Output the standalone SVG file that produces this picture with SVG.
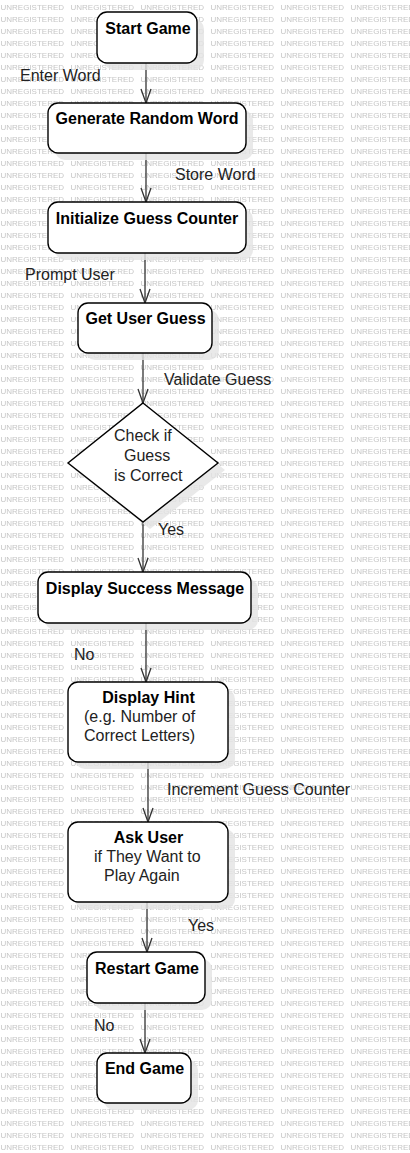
<svg xmlns="http://www.w3.org/2000/svg" width="410" height="1153" viewBox="0 0 410 1153">
<defs>
<pattern id="wm" x="0" y="0" width="70" height="12" patternUnits="userSpaceOnUse">
<text x="0.5" y="10" font-family="Liberation Sans, Arial, sans-serif" font-size="8" fill="#c6c6c6">UNREGISTERED</text>
</pattern>
<marker id="arr" viewBox="0 0 16 12" refX="15" refY="6" markerWidth="16" markerHeight="12" markerUnits="userSpaceOnUse" orient="auto">
<path d="M1,1 L15,6 L1,11" fill="none" stroke="#333" stroke-width="1.3"/>
</marker>
</defs>
<style>
.box{fill:#fff;stroke:#000;stroke-width:1.4}
.sh{fill:#e4e4e4;opacity:0.8}
.t{font-family:"Liberation Sans",Arial,sans-serif;font-size:16px;font-weight:bold;fill:#000;text-anchor:middle}
.n{font-family:"Liberation Sans",Arial,sans-serif;font-size:16px;fill:#222}
.lbl{font-family:"Liberation Sans",Arial,sans-serif;font-size:16px;fill:#222}
.c{fill:none;stroke:#333;stroke-width:1.3;marker-end:url(#arr)}
</style>
<rect width="410" height="1153" fill="#fff"/>
<rect width="410" height="1153" fill="url(#wm)"/>

<g id="connectors">
<line class="c" x1="146" y1="63" x2="146" y2="103"/>
<line class="c" x1="146" y1="153" x2="146" y2="202"/>
<line class="c" x1="145" y1="253" x2="145" y2="303"/>
<line class="c" x1="143" y1="353" x2="143" y2="403"/>
<line class="c" x1="143" y1="522" x2="143" y2="572"/>
<line class="c" x1="146" y1="623" x2="146" y2="682"/>
<line class="c" x1="148" y1="762" x2="148" y2="822"/>
<line class="c" x1="147" y1="902" x2="147" y2="952"/>
<line class="c" x1="145" y1="1003" x2="145" y2="1053"/>
<text class="lbl" x="20" y="81">Enter Word</text>
<text class="lbl" x="175" y="180">Store Word</text>
<text class="lbl" x="25" y="280">Prompt User</text>
<text class="lbl" x="164" y="385">Validate Guess</text>
<text class="lbl" x="158" y="535">Yes</text>
<text class="lbl" x="74" y="660">No</text>
<text class="lbl" x="167" y="795">Increment Guess Counter</text>
<text class="lbl" x="188" y="931">Yes</text>
<text class="lbl" x="94" y="1031">No</text>
</g>

<g id="start-game">
<rect class="sh" x="104" y="19" width="100" height="51" rx="10"/>
<rect class="box" x="97" y="12" width="100" height="51" rx="10"/>
<text class="t" x="148" y="34">Start Game</text>
</g>

<g id="generate-random-word">
<rect class="sh" x="55" y="110" width="198" height="50" rx="10"/>
<rect class="box" x="48" y="103" width="198" height="50" rx="10"/>
<text class="t" x="147" y="124">Generate Random Word</text>
</g>

<g id="initialize-guess-counter">
<rect class="sh" x="55" y="209" width="198" height="51" rx="10"/>
<rect class="box" x="48" y="202" width="198" height="51" rx="10"/>
<text class="t" x="147" y="224">Initialize Guess Counter</text>
</g>

<g id="get-user-guess">
<rect class="sh" x="85" y="310" width="134" height="50" rx="10"/>
<rect class="box" x="78" y="303" width="134" height="50" rx="10"/>
<text class="t" x="145.5" y="324">Get User Guess</text>
</g>

<g id="check-guess">
<polygon class="sh" points="150,410 225,470 150,529 75,470"/>
<polygon class="box" points="143,403 218,463 143,522 68,463"/>
<text class="n" x="114" y="441">Check if</text>
<text class="n" x="124" y="461">Guess</text>
<text class="n" x="114" y="481">is Correct</text>
</g>

<g id="display-success-message">
<rect class="sh" x="45" y="579" width="213" height="51" rx="10"/>
<rect class="box" x="38" y="572" width="213" height="51" rx="10"/>
<text class="t" x="145" y="594">Display Success Message</text>
</g>

<g id="display-hint">
<rect class="sh" x="75" y="689" width="160" height="80" rx="10"/>
<rect class="box" x="68" y="682" width="160" height="80" rx="10"/>
<text class="t" x="148.5" y="703">Display Hint</text>
<text class="n" x="84" y="722">(e.g. Number of</text>
<text class="n" x="84" y="741">Correct Letters)</text>
</g>

<g id="ask-user">
<rect class="sh" x="75" y="829" width="160" height="80" rx="10"/>
<rect class="box" x="68" y="822" width="160" height="80" rx="10"/>
<text class="t" x="148.5" y="843">Ask User</text>
<text class="n" x="94" y="862">if They Want to</text>
<text class="n" x="104" y="881">Play Again</text>
</g>

<g id="restart-game">
<rect class="sh" x="94" y="959" width="118" height="51" rx="10"/>
<rect class="box" x="87" y="952" width="118" height="51" rx="10"/>
<text class="t" x="147" y="974">Restart Game</text>
</g>

<g id="end-game">
<rect class="sh" x="104" y="1060" width="94" height="50" rx="10"/>
<rect class="box" x="97" y="1053" width="94" height="50" rx="10"/>
<text class="t" x="144.5" y="1074">End Game</text>
</g>
</svg>
